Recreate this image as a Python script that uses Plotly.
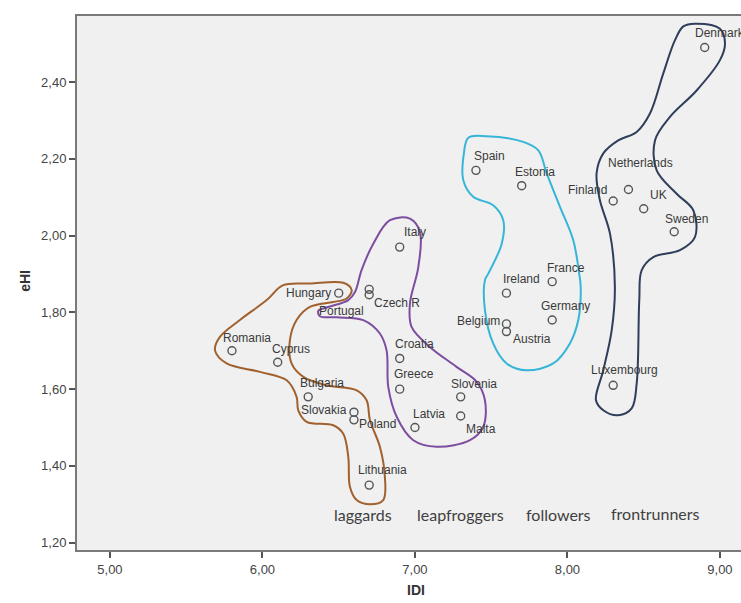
import plotly.graph_objects as go

# ---------------- data ----------------
countries = ["Denmark", "Spain", "Estonia", "Netherlands", "Finland", "UK", "Sweden",
             "Italy", "Ireland", "France", "Germany", "Belgium", "Austria",
             "Croatia", "Greece", "Slovenia", "Malta", "Latvia", "Luxembourg",
             "Lithuania", "Hungary", "Czech R", "Portugal", "Romania", "Cyprus",
             "Bulgaria", "Slovakia", "Poland"]
idi = [8.90, 7.40, 7.70, 8.40, 8.30, 8.50, 8.70,
       6.90, 7.60, 7.90, 7.90, 7.60, 7.60,
       6.90, 6.90, 7.30, 7.30, 7.00, 8.30,
       6.70, 6.50, 6.70, 6.70, 5.80, 6.10,
       6.30, 6.60, 6.60]
ehi = [2.49, 2.17, 2.13, 2.12, 2.09, 2.07, 2.01,
       1.97, 1.85, 1.88, 1.78, 1.77, 1.75,
       1.68, 1.60, 1.58, 1.53, 1.50, 1.61,
       1.35, 1.85, 1.86, 1.846, 1.70, 1.67,
       1.58, 1.54, 1.52]

group_names = ["laggards", "leapfroggers", "followers", "frontrunners"]
group_label_x = [6.66, 7.30, 7.94, 8.58]
group_label_y = [1.274, 1.274, 1.274, 1.276]

# hand-drawn group outlines (data units)
frontrunners_x = [8.76, 8.836, 9.0, 9.033, 9.0, 8.847, 8.672, 8.574, 8.585, 8.716, 8.825, 8.836,
                  8.738, 8.563, 8.487, 8.471, 8.454, 8.421, 8.333, 8.235, 8.187, 8.235, 8.290,
                  8.311, 8.279, 8.213, 8.191, 8.235, 8.333, 8.454, 8.541, 8.628, 8.705]
frontrunners_y = [2.545, 2.552, 2.539, 2.500, 2.457, 2.378, 2.309, 2.248, 2.170, 2.109, 2.066, 1.996,
                  1.962, 1.944, 1.910, 1.832, 1.615, 1.550, 1.532, 1.545, 1.571, 1.649, 1.753,
                  1.866, 2.005, 2.092, 2.162, 2.214, 2.248, 2.270, 2.318, 2.422, 2.509]
followers_x = [7.350, 7.470, 7.710, 7.809, 7.864, 7.951, 8.038, 8.077, 8.087, 8.071, 8.016, 7.907,
               7.732, 7.601, 7.513, 7.459, 7.459, 7.481, 7.569, 7.579, 7.513, 7.382, 7.317, 7.321]
followers_y = [2.255, 2.259, 2.244, 2.222, 2.162, 2.075, 1.988, 1.901, 1.866, 1.780, 1.719, 1.667,
               1.649, 1.667, 1.719, 1.806, 1.884, 1.901, 1.979, 2.040, 2.079, 2.101, 2.144, 2.214]
leapfroggers_x = [6.836, 6.967, 7.033, 7.022, 6.967, 6.978, 7.098, 7.273, 7.405, 7.459, 7.448, 7.361,
                  7.142, 6.989, 6.880, 6.825, 6.814, 6.770, 6.661, 6.487, 6.377, 6.366, 6.431,
                  6.563, 6.607, 6.650, 6.727]
leapfroggers_y = [2.040, 2.044, 2.009, 1.918, 1.823, 1.762, 1.710, 1.658, 1.619, 1.571, 1.502, 1.467,
                  1.450, 1.467, 1.528, 1.606, 1.701, 1.745, 1.780, 1.787, 1.790, 1.804, 1.814,
                  1.832, 1.853, 1.910, 1.979]
laggards_x = [6.136, 6.311, 6.530, 6.585, 6.552, 6.464, 6.311, 6.224, 6.180, 6.191, 6.268, 6.421,
              6.618, 6.683, 6.705, 6.770, 6.803, 6.792, 6.705, 6.618, 6.574, 6.563, 6.530, 6.464,
              6.290, 6.235, 6.224, 6.159, 5.984, 5.765, 5.689, 5.721, 5.852, 6.028]
laggards_y = [1.871, 1.875, 1.877, 1.858, 1.836, 1.827, 1.814, 1.780, 1.727, 1.667, 1.632, 1.610,
              1.597, 1.571, 1.519, 1.450, 1.371, 1.311, 1.300, 1.311, 1.345, 1.423, 1.484, 1.506,
              1.515, 1.545, 1.580, 1.623, 1.645, 1.667, 1.701, 1.736, 1.780, 1.832]

x_ticks = [5, 6, 7, 8, 9]
y_ticks = [1.2, 1.4, 1.6, 1.8, 2.0, 2.2, 2.4]

# ---------------- styles (label placement in pixels: dx, dy, anchor) ----------------
label_pos = {
    "Denmark": (-11, -14, "left"), "Spain": (-3, -14, "left"), "Estonia": (-8, -14, "left"),
    "Netherlands": (-21, -27, "left"), "Finland": (-5, -11, "right"), "UK": (5, -14, "left"),
    "Sweden": (-10, -13, "left"), "Italy": (3, -15, "left"), "Ireland": (-4, -14, "left"),
    "France": (-6, -14, "left"), "Germany": (-12, -14, "left"), "Belgium": (-5, -3, "right"),
    "Austria": (6, 7, "left"), "Croatia": (-6, -14, "left"), "Greece": (-7, -15, "left"),
    "Slovenia": (-11, -13, "left"), "Malta": (4, 13, "left"), "Latvia": (-3, -14, "left"),
    "Luxembourg": (-23, -15, "left"), "Lithuania": (-12, -15, "left"), "Hungary": (-7, 0, "right"),
    "Czech R": (4, 14, "left"), "Portugal": (-4, 16, "right"), "Romania": (-10, -13, "left"),
    "Cyprus": (-7, -13, "left"), "Bulgaria": (-9, -14, "left"), "Slovakia": (-6, -2, "right"),
    "Poland": (4, 4, "left"),
}

outlines = [
    (laggards_x, laggards_y, "#A0612F"),
    (leapfroggers_x, leapfroggers_y, "#7D4DA0"),
    (followers_x, followers_y, "#35B5D8"),
    (frontrunners_x, frontrunners_y, "#2F3E5A"),
]

fig = go.Figure()

for xs, ys, col in outlines:
    fig.add_trace(go.Scatter(
        x=xs + xs[:1], y=ys + ys[:1], mode="lines",
        line=dict(color=col, width=2, shape="spline", smoothing=1.0),
        hoverinfo="skip", showlegend=False))

fig.add_trace(go.Scatter(
    x=idi, y=ehi, mode="markers",
    marker=dict(symbol="circle-open", size=8, color="#555555", line=dict(width=1.4, color="#555555")),
    text=countries, showlegend=False, hoverinfo="skip"))

annotations = []
for name, xv, yv in zip(countries, idi, ehi):
    dx, dy, anc = label_pos[name]
    annotations.append(dict(
        x=xv, y=yv, xref="x", yref="y", text=name, showarrow=False,
        xanchor=anc, yanchor="middle", xshift=dx, yshift=-dy,
        font=dict(family="Liberation Sans, Arial", size=12, color="#3a3a3a"),
        borderpad=0))

for name, xv, yv in zip(group_names, group_label_x, group_label_y):
    annotations.append(dict(
        x=xv, y=yv, xref="x", yref="y", text=name, showarrow=False,
        xanchor="center", yanchor="middle",
        font=dict(family="Lato, Carlito, sans-serif", size=16, color="#404040")))

# axis titles
annotations.append(dict(x=0, y=0.504, xref="paper", yref="paper", text="<b>eHI</b>",
                        showarrow=False, textangle=-90, xanchor="center", yanchor="middle",
                        xshift=-52, font=dict(family="Liberation Sans, Arial", size=14, color="#333333")))
annotations.append(dict(x=0.5105, y=0, xref="paper", yref="paper", text="<b>IDI</b>",
                        showarrow=False, xanchor="center", yanchor="middle",
                        yshift=-40, font=dict(family="Liberation Sans, Arial", size=14, color="#333333")))

fig.update_layout(
    width=741, height=603,
    margin=dict(l=77, r=0, t=16, b=53),
    paper_bgcolor="white", plot_bgcolor="#F0F0F0",
    separators=",.",
    annotations=annotations,
    showlegend=False,
    hovermode=False,
    xaxis=dict(range=[4.784, 9.138], tickvals=x_ticks, tickformat=".2f",
               showgrid=False, zeroline=False, showline=True, mirror=True,
               linecolor="#7a7a7a", linewidth=2, ticks="outside", ticklen=6,
               tickcolor="#555555", tickwidth=1.5,
               tickfont=dict(family="Liberation Sans, Arial", size=13, color="#444444")),
    yaxis=dict(range=[1.181, 2.572], tickvals=y_ticks, tickformat=".2f",
               showgrid=False, zeroline=False, showline=True, mirror=False,
               linecolor="#7a7a7a", linewidth=2, ticks="outside", ticklen=6,
               tickcolor="#555555", tickwidth=1.5,
               tickfont=dict(family="Liberation Sans, Arial", size=13, color="#444444")),
)

fig.write_html("out.html", config={"displayModeBar": False},
               post_script="document.body.style.margin='0';document.body.style.overflow='hidden';")
